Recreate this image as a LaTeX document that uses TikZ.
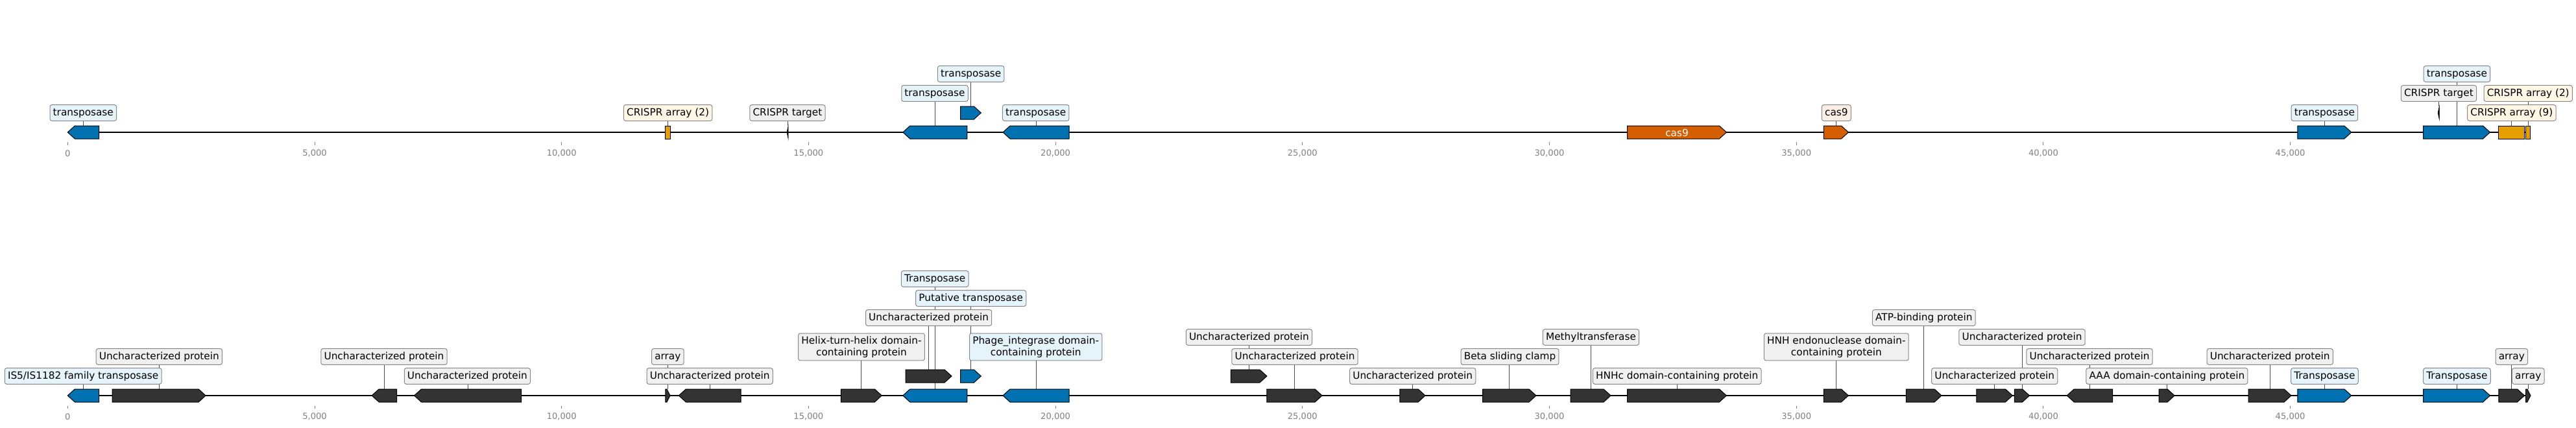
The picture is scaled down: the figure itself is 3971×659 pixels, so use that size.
\documentclass[tikz,border=0pt]{standalone}
\usepackage{fontspec}
\setmainfont{DejaVu Sans}
\usetikzlibrary{calc}
\pgfdeclarelayer{bg}
\pgfsetlayers{bg,main}
\definecolor{fblue}{RGB}{0,114,178}
\definecolor{fdark}{RGB}{51,51,51}
\definecolor{forange}{RGB}{230,159,0}
\definecolor{fcas}{RGB}{213,94,0}
\definecolor{lblue}{RGB}{229,243,250}
\definecolor{lorange}{RGB}{255,247,230}
\definecolor{lcas}{RGB}{251,238,230}
\definecolor{lgray}{RGB}{240,240,240}
\definecolor{boxedge}{RGB}{136,136,136}
\definecolor{tickgray}{RGB}{128,128,128}
\tikzset{
  feat/.style={draw=black, line width=1pt, line join=miter},
  lblbase/.style={draw=boxedge, line width=1pt, rounded corners=3pt, inner xsep=4.7pt, inner ysep=4.7pt, font=\fontsize{15.3}{17.7}\selectfont},
  lbl/.style={lblbase, text height=11.6pt, text depth=3.6pt},
  lbltwo/.style={lblbase, align=center},
  conn/.style={draw=black!70, line width=0.8pt},
  track/.style={draw=black, line width=2.6pt},
  tickmark/.style={draw=tickgray, line width=0.9pt},
  ticklabel/.style={text=tickgray, font=\fontsize{13.1}{15}\selectfont, inner sep=0pt}
}
\newcommand\fright[5]{%
  \pgfmathsetmacro\fhl{min(11,0.7*(#3-#2))}
  \filldraw[feat, fill=#5] (#2,#4-10) -- ({#3-\fhl},#4-10) -- (#3,#4) -- ({#3-\fhl},#4+10) -- (#2,#4+10) -- cycle;
  \coordinate (#1) at ({(#2+#3)/2},#4-10);
}
\newcommand\fleft[5]{%
  \pgfmathsetmacro\fhl{min(11,0.7*(#3-#2))}
  \filldraw[feat, fill=#5] (#2,#4) -- ({#2+\fhl},#4-10) -- (#3,#4-10) -- (#3,#4+10) -- ({#2+\fhl},#4+10) -- cycle;
  \coordinate (#1) at ({(#2+#3)/2},#4-10);
}
\newcommand\frect[5]{%
  \filldraw[feat, fill=#5] (#2,#4-10) rectangle (#3,#4+10);
  \coordinate (#1) at ({(#2+#3)/2},#4-10);
}
\newcommand\ftarget[3]{%
  \filldraw[black, line width=0.6pt] (#2+0.8,#3-10) -- (#2-1.3,#3) -- (#2+0.8,#3+10) -- cycle;
  \coordinate (#1) at (#2,#3-10);
}
\newcommand\lab[6]{%
  \node[lbl, fill=#5] (#1) at (#2,#3) {#4};
  \begin{pgfonlayer}{bg}\draw[conn] (#6 |- #1.south) -- (#6);\end{pgfonlayer}
}
\newcommand\labtwo[6]{%
  \node[lbltwo, fill=#5] (#1) at (#2,#3) {#4};
  \begin{pgfonlayer}{bg}\draw[conn] (#6 |- #1.south) -- (#6);\end{pgfonlayer}
}
\begin{document}
\begin{tikzpicture}[x=1pt,y=-1pt]
\useasboundingbox (0,0) rectangle (3971,659);
% tracks
\begin{pgfonlayer}{bg}
\coordinate (topstart) at (104.3,204);
\coordinate (topend) at (3900.9,204);
\coordinate (botstart) at (104.3,610);
\coordinate (botend) at (3900.9,610);
\draw[track] (topstart) -- (topend);
\draw[track] (botstart) -- (botend);
\end{pgfonlayer}
\foreach \k/\t in {0/0,1/{5,000},2/{10,000},3/{15,000},4/{20,000},5/{25,000},6/{30,000},7/{35,000},8/{40,000},9/{45,000}}{
  \pgfmathsetmacro\tx{104.3+\k*380.7}
  \coordinate (ta\k) at (\tx,219.3);
  \coordinate (tb\k) at (\tx,224);
  \draw[tickmark] (ta\k) -- (tb\k);
  \node[ticklabel] (tl\k) at (\tx,236.7) {\t};
  \coordinate (ba\k) at (\tx,625.7);
  \coordinate (bb\k) at (\tx,630.3);
  \draw[tickmark] (ba\k) -- (bb\k);
  \node[ticklabel] (bl\k) at (\tx,642.3) {\t};
}
% ---------- top track ----------
\fleft{t1}{104.3}{152.6}{204}{fblue}
\lab{Lt1}{128.3}{174}{transposase}{lblue}{t1}
\frect{t2}{1025.4}{1033}{204}{forange}
\lab{Lt2}{1029.6}{174}{CRISPR array (2)}{lorange}{t2}
\ftarget{t3}{1214.3}{204}
\lab{Lt3}{1213.9}{174}{CRISPR target}{lgray}{t3}
\fleft{t4}{1391.8}{1490.9}{204}{fblue}
\lab{Lt4}{1441}{144}{transposase}{lblue}{t4}
\fright{t5}{1480.7}{1512.3}{174}{fblue}
\lab{Lt5}{1496.7}{114}{transposase}{lblue}{t5}
\fleft{t6}{1546}{1648.2}{204}{fblue}
\lab{Lt6}{1596.7}{174}{transposase}{lblue}{t6}
\fright{t7}{2508.6}{2661.4}{204}{fcas}
\node[text=white, font=\fontsize{15.3}{17.7}\selectfont, inner sep=0pt] (cas9txt) at (2585,204.5) {cas9};
\fright{t8}{2811.4}{2849.4}{204}{fcas}
\lab{Lt8}{2830.8}{174}{cas9}{lcas}{t8}
\fright{t9}{3541.9}{3624.8}{204}{fblue}
\lab{Lt9}{3583.3}{174}{transposase}{lblue}{t9}
\fright{t10}{3735.5}{3838.5}{204}{fblue}
\lab{Lt10}{3787.4}{114}{transposase}{lblue}{t10}
\ftarget{t11}{3759.4}{174}
\lab{Lt11}{3759.4}{144}{CRISPR target}{lgray}{t11}
\frect{t12}{3851.7}{3891.5}{204}{forange}
\lab{Lt12}{3871.8}{174}{CRISPR array (9)}{lorange}{t12}
\frect{t13}{3893.6}{3900.9}{204}{forange}
\lab{Lt13}{3897.2}{144}{CRISPR array (2)}{lorange}{t13}
% ---------- bottom track ----------
\fleft{b1}{104.3}{152.6}{610}{fblue}
\lab{Lb1}{128.2}{580}{IS5/IS1182 family transposase~}{lblue}{b1}
\fright{b2}{173.1}{317.1}{610}{fdark}
\lab{Lb2}{245.3}{550}{Uncharacterized protein~}{lgray}{b2}
\fleft{b3}{573.1}{611.5}{610}{fdark}
\lab{Lb3}{592}{550}{Uncharacterized protein~}{lgray}{b3}
\fleft{b4}{638.5}{803.6}{610}{fdark}
\lab{Lb4}{720.4}{580}{Uncharacterized protein~}{lgray}{b4}
\fright{b5}{1025.8}{1033}{610}{fdark}
\lab{Lb5}{1029.3}{550}{array}{lgray}{b5}
\fleft{b6}{1046.3}{1142}{610}{fdark}
\lab{Lb6}{1094.2}{580}{Uncharacterized protein~}{lgray}{b6}
\fright{b7}{1296.3}{1359.3}{610}{fdark}
\labtwo{Lb7}{1328}{535}{Helix-turn-helix domain-\\containing protein}{lgray}{b7}
\fright{b8}{1396}{1467}{580}{fdark}
\lab{Lb8}{1431.6}{490}{Uncharacterized protein~}{lgray}{b8}
\fleft{b9}{1391.8}{1490.9}{610}{fblue}
\lab{Lb9}{1441.2}{430}{Transposase~}{lblue}{b9}
\fright{b10}{1480.7}{1512.3}{580}{fblue}
\lab{Lb10}{1496.7}{460}{Putative transposase~}{lblue}{b10}
\fleft{b11}{1546}{1648.2}{610}{fblue}
\labtwo{Lb11}{1596.7}{535}{Phage\_integrase domain-\\containing protein}{lblue}{b11}
\fright{b12}{1897.4}{1952.9}{580}{fdark}
\lab{Lb12}{1925.4}{520}{Uncharacterized protein~}{lgray}{b12}
\fright{b13}{1952.9}{2038.1}{610}{fdark}
\lab{Lb13}{1996}{550}{Uncharacterized protein~}{lgray}{b13}
\fright{b14}{2157.8}{2197.1}{610}{fdark}
\lab{Lb14}{2177.7}{580}{Uncharacterized protein~}{lgray}{b14}
\fright{b15}{2285.6}{2368}{610}{fdark}
\lab{Lb15}{2327.5}{550}{Beta sliding clamp~}{lgray}{b15}
\fright{b16}{2421}{2483}{610}{fdark}
\lab{Lb16}{2452.5}{520}{Methyltransferase~}{lgray}{b16}
\fright{b17}{2508.6}{2661.4}{610}{fdark}
\lab{Lb17}{2585.2}{580}{HNHc domain-containing protein}{lgray}{b17}
\fright{b18}{2811.4}{2849.4}{610}{fdark}
\labtwo{Lb18}{2830.8}{535}{HNH endonuclease domain-\\containing protein}{lgray}{b18}
\fright{b19}{2938.3}{2993}{610}{fdark}
\lab{Lb19}{2965.8}{490}{ATP-binding protein~}{lgray}{b19}
\fright{b20}{3046.8}{3102.4}{610}{fdark}
\lab{Lb20}{3074.7}{580}{Uncharacterized protein~}{lgray}{b20}
\fright{b21}{3105.4}{3128.5}{610}{fdark}
\lab{Lb21}{3117}{520}{Uncharacterized protein~}{lgray}{b21}
\fleft{b22}{3186.2}{3256.7}{610}{fdark}
\lab{Lb22}{3221}{550}{Uncharacterized protein~}{lgray}{b22}
\fright{b23}{3328.2}{3352.1}{610}{fdark}
\lab{Lb23}{3340.3}{580}{AAA domain-containing protein~}{lgray}{b23}
\fright{b24}{3466.2}{3532}{610}{fdark}
\lab{Lb24}{3499.2}{550}{Uncharacterized protein~}{lgray}{b24}
\fright{b25}{3541.9}{3624.8}{610}{fblue}
\lab{Lb25}{3583.4}{580}{Transposase~}{lblue}{b25}
\fright{b26}{3735.5}{3838.5}{610}{fblue}
\lab{Lb26}{3787.4}{580}{Transposase~}{lblue}{b26}
\fright{b27}{3851.7}{3891.5}{610}{fdark}
\lab{Lb27}{3871.8}{550}{array}{lgray}{b27}
\fright{b28}{3893.6}{3900.9}{610}{fdark}
\lab{Lb28}{3897.2}{580}{array}{lgray}{b28}
\end{tikzpicture}
\end{document}
